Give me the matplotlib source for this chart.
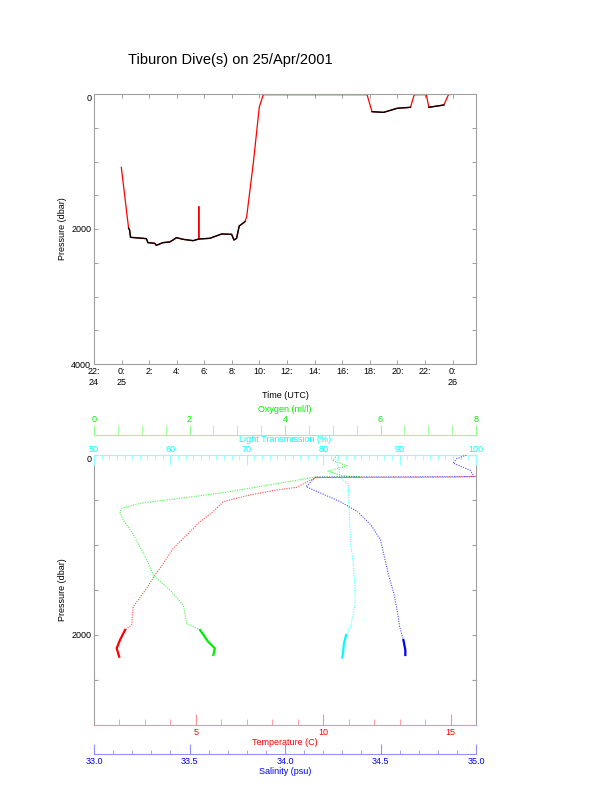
import numpy as np
import matplotlib
matplotlib.use('Agg')
import matplotlib.pyplot as plt
from matplotlib.ticker import MultipleLocator

plt.rcParams['font.family'] = ['Liberation Sans', 'DejaVu Sans']
plt.rcParams['font.size'] = 6.5

# ---- top panel: vehicle pressure vs time (hours from 0:00 on 25 Apr) ----
dive_hours = [-0.02, 0.51, 0.58, 0.65, 1.8, 1.91, 2.4, 2.52, 3.0, 3.49, 3.73, 3.98,
              4.46, 5.19, 5.6, 5.6, 5.6, 6.4, 7.25, 7.98, 8.15, 8.34, 8.53, 8.95,
              9.07, 9.55, 9.99, 10.28, 17.8, 18.16, 19.0, 19.98, 20.95, 21.19,
              21.25, 22.1, 22.28, 23.37, 23.66, 23.73]
dive_pres = [1086, 1990, 2015, 2123, 2143, 2202, 2212, 2242, 2202, 2192, 2163, 2128,
             2153, 2173, 2148, 1669, 2148, 2138, 2074, 2079, 2163, 2138, 1956, 1891,
             1817, 1027, 188, 10, 10, 262, 272, 212, 197, 30,
             10, 10, 197, 163, 30, 5]
spike_index = 15

hour_ticks = [-2, 0, 2, 4, 6, 8, 10, 12, 14, 16, 18, 20, 22, 24]
hour_labels = ['22:\n24', '0:\n25', '2:', '4:', '6:', '8:', '10:', '12:', '14:',
               '16:', '18:', '20:', '22:', '0:\n26']

# ---- bottom panel: CTD profiles ----
temp_p = [0, 120, 230, 246, 247, 250, 359, 389, 444, 519, 574, 630, 741, 889, 1037,
          1148, 1259, 1333, 1481, 1685, 1889, 1944, 2056, 2148, 2241]
temp_c = [17.0, 17.0, 17.0, 15.0, 12.0, 9.7, 8.96, 8.17, 7.12, 6.08, 5.88, 5.68, 5.16,
          4.64, 4.11, 3.85, 3.59, 3.39, 3.07, 2.54, 2.48, 2.22, 2.02, 1.89, 1.99]

oxy_p = [0, 60, 120, 180, 230, 244, 246, 330, 419, 481, 537, 593, 630, 722, 852,
         1019, 1204, 1333, 1500, 1667, 1870, 1944, 2074, 2148, 2222]
oxy_v = [5.1, 5.0, 5.3, 4.9, 5.2, 5.57, 4.63, 3.7, 2.71, 1.80, 0.96, 0.58, 0.54,
         0.61, 0.79, 0.96, 1.14, 1.24, 1.59, 1.87, 1.94, 2.22, 2.39, 2.53, 2.50]

light_p = [0, 80, 160, 244, 330, 450, 600, 800, 1000, 1170, 1400, 1650, 1780, 1900,
           2000, 2100, 2200, 2250]
light_v = [82.0, 81.8, 82.1, 82.2, 83.3, 83.3, 83.4, 83.5, 83.6, 83.9, 84.1, 84.2,
           83.9, 83.6, 83.0, 82.7, 82.6, 82.5]

sal_p = [0, 40, 90, 170, 204, 240, 244, 246, 352, 389, 519, 630, 778, 944, 1130,
         1315, 1537, 1759, 1907, 2056, 2167, 2222]
sal_v = [34.95, 34.90, 34.88, 34.97, 34.98, 34.99, 34.60, 34.16, 34.11, 34.15, 34.29,
         34.38, 34.45, 34.50, 34.52, 34.54, 34.57, 34.59, 34.60, 34.62, 34.63, 34.63]

W, H = 612, 785
gray = '#a0a0a0'
dotted = (0, (1, 1.2))


def profile(ax, x, y, color):
    # sparse samples look dotted, the bottom-time samples are dense
    x = np.array(x)
    y = np.array(y)
    ax.plot(x, y, color=color, lw=0.8, ls=dotted, alpha=0.7)
    deep = y >= 1940
    ax.plot(x[deep], y[deep], color=color, lw=1.6)


def pressure_labels(ax, top):
    ticks = np.arange(0, top + 1, 500)
    ax.set_yticks(ticks)
    ax.set_yticklabels([str(v) if v % 2000 == 0 else '' for v in ticks])
    # the zero label hangs just below the top spine
    ax.get_yticklabels()[0].set_va('top')


fig = plt.figure(figsize=(W / 100, H / 100), dpi=100)
fig.text(230 / W, 1 - 60 / H, 'Tiburon Dive(s) on 25/Apr/2001', fontsize=10.5,
         ha='center', va='center')

# top panel
ax1 = fig.add_axes([94 / W, 1 - 364 / H, 382 / W, 270 / H])
t = np.array(dive_hours)
p = np.array(dive_pres)
ax1.plot(t, p, color='red', lw=0.9)
black = (p > 1850) | ((t > 18) & (p > 150))
black[spike_index] = False
pb = np.where(black, p, np.nan)
pb[spike_index] = dive_pres[spike_index - 1]
ax1.plot(t, pb, color='black', lw=1.0)
ax1.set_xlim(-2, 25.7)
ax1.set_ylim(4000, 0)
ax1.set_xticks(hour_ticks)
ax1.set_xticklabels(hour_labels, linespacing=1.3)
pressure_labels(ax1, 4000)
ax1.tick_params(direction='in', length=3, width=0.7, color=gray, top=True,
                right=True, pad=2)
for s in ax1.spines.values():
    s.set_color(gray)
    s.set_linewidth(0.8)
ax1.set_xlabel('Time (UTC)', labelpad=3)
ax1.set_ylabel('Pressure (dbar)', labelpad=3)

# bottom panel (temperature on main x axis)
red_l, green_l, cyan_l, blue_l = '#ff9090', '#90ff90', '#90ffff', '#9090ff'
ax2 = fig.add_axes([94 / W, 1 - 725 / H, 382 / W, 270 / H])
profile(ax2, temp_c, temp_p, 'red')
ax2.set_xlim(1, 16)
ax2.set_ylim(3000, 0)
ax2.set_xticks([5, 10, 15])
ax2.xaxis.set_minor_locator(MultipleLocator(1))
ax2.tick_params(axis='x', which='major', direction='in', length=8, color=red_l,
                labelcolor='red', pad=2)
ax2.tick_params(axis='x', which='minor', direction='in', length=4, color=red_l)
pressure_labels(ax2, 3000)
ax2.tick_params(axis='y', direction='in', length=3, color=gray, right=True, pad=2)
for s in ax2.spines.values():
    s.set_color(gray)
    s.set_linewidth(0.8)
ax2.spines['bottom'].set_color(red_l)
ax2.spines['top'].set_color(cyan_l)
ax2.set_xlabel('Temperature (C)', color='red', labelpad=1)
ax2.set_ylabel('Pressure (dbar)', labelpad=3)

# light transmission on top spine
ax_lt = ax2.twiny()
profile(ax_lt, light_v, light_p, 'cyan')
ax_lt.set_xlim(50, 100)
ax_lt.set_xticks(np.arange(50, 101, 10))
ax_lt.xaxis.set_minor_locator(MultipleLocator(1))
ax_lt.tick_params(axis='x', which='major', direction='in', length=7, color=cyan_l,
                  labelcolor='cyan', pad=1)
ax_lt.tick_params(axis='x', which='minor', direction='in', length=3.5, color=cyan_l)
for k in ['left', 'right', 'bottom']:
    ax_lt.spines[k].set_visible(False)
ax_lt.spines['top'].set_color(cyan_l)
ax_lt.set_xlabel('Light Transmission (%)', color='cyan', labelpad=2)

# oxygen on offset top axis
ax_ox = ax2.twiny()
profile(ax_ox, oxy_v, oxy_p, '#00ee00')
ax_ox.set_xlim(0, 8)
ax_ox.set_xticks(np.arange(0, 9, 2))
ax_ox.xaxis.set_minor_locator(MultipleLocator(0.5))
ax_ox.spines['top'].set_position(('outward', 14.4))
ax_ox.tick_params(axis='x', which='both', direction='out', length=7, color=green_l,
                  labelcolor='#00ee00', pad=1)
for k in ['left', 'right', 'bottom']:
    ax_ox.spines[k].set_visible(False)
ax_ox.spines['top'].set_color(green_l)
ax_ox.set_xlabel('Oxygen (ml/l)', color='#00ee00', labelpad=2)

# salinity on offset bottom axis
ax_sal = ax2.twiny()
profile(ax_sal, sal_v, sal_p, 'blue')
ax_sal.set_xlim(33, 35)
ax_sal.set_xticks(np.arange(33, 35.01, 0.5))
ax_sal.set_xticklabels(['%.1f' % v for v in np.arange(33, 35.01, 0.5)])
ax_sal.xaxis.set_minor_locator(MultipleLocator(0.1))
ax_sal.xaxis.set_ticks_position('bottom')
ax_sal.xaxis.set_label_position('bottom')
ax_sal.spines['bottom'].set_position(('outward', 20.9))
ax_sal.tick_params(axis='x', which='major', direction='in', length=7, color=blue_l,
                   labelcolor='blue', pad=2)
ax_sal.tick_params(axis='x', which='minor', direction='in', length=3, color=blue_l)
for k in ['left', 'right', 'top']:
    ax_sal.spines[k].set_visible(False)
ax_sal.spines['bottom'].set_color(blue_l)
ax_sal.set_xlabel('Salinity (psu)', color='blue', labelpad=1)

plt.savefig('out.png', dpi=100)
